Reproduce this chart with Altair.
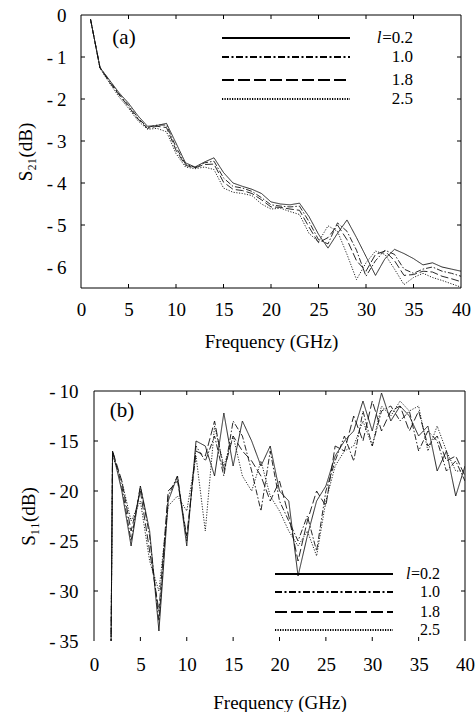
import altair as alt
import pandas as pd

FONT = "Liberation Serif"

SERIES = ["l=0.2", "1.0", "1.8", "2.5"]
DATA_DASHES = [[1, 0], [6, 2, 1.5, 2], [8, 3], [1.2, 1.5]]
LEG_DASHES = [[1, 0], [7, 2.5, 2, 2.5], [12, 4], [1.2, 1.3]]

X_TICKS = [0, 5, 10, 15, 20, 25, 30, 35, 40]
A_Y_TICKS = [0, -1, -2, -3, -4, -5, -6]
B_Y_TICKS = [-10, -15, -20, -25, -30, -35]

# ---- panel (a): S21 ----
FREQ_A = list(range(1, 41))
A_L02 = [-0.10, -1.25, -1.55, -1.85, -2.10, -2.40, -2.65, -2.63, -2.58, -3.05,
         -3.52, -3.62, -3.50, -3.40, -3.75, -4.00, -4.08, -4.15, -4.25, -4.45,
         -4.50, -4.52, -4.48, -4.80, -5.22, -5.55, -5.20, -4.88, -5.30, -5.75,
         -6.20, -5.80, -5.58, -5.68, -5.80, -5.95, -5.90, -6.00, -6.05, -6.10]
A_L10 = [-0.10, -1.25, -1.57, -1.88, -2.15, -2.45, -2.68, -2.62, -2.62, -3.15,
         -3.55, -3.63, -3.52, -3.48, -3.88, -4.08, -4.12, -4.20, -4.35, -4.52,
         -4.55, -4.57, -4.55, -4.92, -5.35, -5.45, -4.95, -5.15, -5.60, -6.22,
         -5.85, -5.60, -5.70, -6.05, -6.15, -6.05, -6.00, -6.10, -6.15, -6.22]
A_L18 = [-0.10, -1.26, -1.60, -1.90, -2.18, -2.48, -2.70, -2.65, -2.68, -3.22,
         -3.58, -3.64, -3.56, -3.55, -3.98, -4.15, -4.18, -4.25, -4.40, -4.57,
         -4.58, -4.62, -4.65, -5.05, -5.42, -5.30, -5.00, -5.35, -5.85, -6.10,
         -5.70, -5.62, -5.85, -6.20, -6.18, -6.10, -6.12, -6.22, -6.28, -6.35]
A_L25 = [-0.10, -1.27, -1.62, -1.95, -2.22, -2.52, -2.72, -2.70, -2.78, -3.30,
         -3.62, -3.66, -3.62, -3.68, -4.12, -4.22, -4.25, -4.30, -4.50, -4.62,
         -4.60, -4.68, -4.75, -5.20, -5.40, -5.02, -5.15, -5.70, -6.30, -5.90,
         -5.62, -5.70, -6.05, -6.42, -6.25, -6.15, -6.25, -6.32, -6.40, -6.48]

# ---- panel (b): S11 ----
FREQ_B = [1.8] + list(range(2, 41))
B_L02 = [-40, -16.0, -20.0, -25.5, -19.5, -24.0, -34.0, -21.0, -18.5, -25.5,
         -15.0, -15.5, -18.5, -12.2, -17.5, -13.0, -15.0, -17.5, -15.5, -20.0,
         -21.0, -28.5, -24.5, -21.0, -19.5, -16.5, -15.0, -14.0, -11.0, -14.0,
         -10.2, -13.0, -11.5, -12.5, -14.5, -13.5, -18.0, -16.0, -20.5, -17.5]
B_L10 = [-40, -16.0, -19.5, -25.0, -19.5, -24.5, -33.0, -20.5, -18.5, -25.0,
         -15.5, -17.0, -14.5, -18.5, -13.0, -14.5, -18.0, -22.0, -16.0, -21.0,
         -23.0, -25.0, -22.5, -26.0, -20.0, -17.0, -14.5, -17.0, -12.0, -15.5,
         -12.0, -11.5, -13.0, -12.0, -16.0, -14.0, -15.0, -18.0, -17.0, -19.0]
B_L18 = [-40, -16.0, -19.0, -24.0, -20.0, -26.0, -32.0, -20.0, -19.0, -24.5,
         -16.0, -16.5, -13.0, -18.0, -14.5, -16.0, -17.0, -18.5, -21.0, -19.0,
         -22.5, -27.0, -23.0, -20.0, -21.5, -15.5, -16.0, -12.5, -15.0, -11.0,
         -14.0, -12.0, -11.5, -14.0, -12.0, -15.5, -14.5, -17.0, -16.5, -18.5]
B_L25 = [-40, -16.5, -19.0, -23.0, -21.0, -27.0, -30.0, -21.5, -20.5, -22.0,
         -16.5, -24.0, -13.5, -17.5, -14.5, -18.5, -20.0, -17.0, -20.5, -22.0,
         -24.0, -25.5, -24.0, -26.5, -21.0, -17.5, -16.0, -15.5, -13.0, -15.5,
         -11.5, -12.5, -11.0, -12.0, -11.5, -16.0, -13.5, -16.0, -18.0, -18.0]


def long_df(freq, cols):
    rows = []
    for name, vals in zip(SERIES, cols):
        for f, v in zip(freq, vals):
            rows.append({"freq": f, "value": v, "series": name})
    return pd.DataFrame(rows)


ONE = pd.DataFrame({"k": [0]})


def y_label_expr():
    return "datum.value == 0 ? '0' : '-\u2009' + abs(datum.value)"


def panel(df, OX, W, H, ydomain, yticks, x_lab_pad, x_title_pad, y_lab_pad, y_title_pad,
          tag, tag_xy, leg_x0, leg_x1, leg_rows, leg_right, leg_fs, bottom_frame, ytitle):
    xscale = alt.Scale(domain=[0, 40], nice=False, zero=False, range=[OX, OX + W])
    yscale = alt.Scale(domain=ydomain, nice=False, zero=False)
    x_axis = alt.Axis(values=X_TICKS, format="d", title="Frequency (GHz)",
                      labelPadding=x_lab_pad, titlePadding=x_title_pad, labelFlush=False,
                      titleX=OX + W / 2)
    y_axis = alt.Axis(values=yticks, labelExpr=y_label_expr(), title=ytitle,
                      labelPadding=y_lab_pad, titlePadding=y_title_pad)

    lines = alt.Chart(df).mark_line(clip=True, strokeWidth=0.9, color="#111").encode(
        x=alt.X("freq:Q", scale=xscale, axis=x_axis),
        y=alt.Y("value:Q", scale=yscale, axis=y_axis),
        strokeDash=alt.StrokeDash("series:N", scale=alt.Scale(domain=SERIES, range=DATA_DASHES),
                                  legend=None),
    )

    xt = pd.DataFrame({"freq": X_TICKS[1:-1]})
    yt = pd.DataFrame({"value": yticks[1:-1]})
    tick_col = "black"
    L, R = OX, OX + W
    layers = [lines]
    layers.append(alt.Chart(xt).mark_rule(color=tick_col).encode(
        x=alt.X("freq:Q", scale=xscale, axis=x_axis), y=alt.value(H), y2=alt.value(H - 4)))
    layers.append(alt.Chart(xt).mark_rule(color=tick_col).encode(
        x=alt.X("freq:Q", scale=xscale, axis=x_axis), y=alt.value(0), y2=alt.value(4)))
    layers.append(alt.Chart(yt).mark_rule(color=tick_col).encode(
        y=alt.Y("value:Q", scale=yscale, axis=y_axis), x=alt.value(L), x2=alt.value(L + 4)))
    layers.append(alt.Chart(yt).mark_rule(color=tick_col).encode(
        y=alt.Y("value:Q", scale=yscale, axis=y_axis), x=alt.value(R), x2=alt.value(R - 4)))

    # frame
    layers.append(alt.Chart(ONE).mark_rule(color="black").encode(
        x=alt.value(L), y=alt.value(0), y2=alt.value(H)))
    layers.append(alt.Chart(ONE).mark_rule(color="black").encode(
        x=alt.value(R), y=alt.value(0), y2=alt.value(H)))
    layers.append(alt.Chart(ONE).mark_rule(color="black").encode(
        y=alt.value(0), x=alt.value(L), x2=alt.value(R)))
    if bottom_frame:
        layers.append(alt.Chart(ONE).mark_rule(color="black").encode(
            y=alt.value(H), x=alt.value(L), x2=alt.value(R)))

    # panel tag
    layers.append(alt.Chart(ONE).mark_text(font=FONT, fontSize=21, align="center",
                                           baseline="middle", color="black").encode(
        x=alt.value(L + tag_xy[0]), y=alt.value(tag_xy[1]), text=alt.value(tag)))

    # legend
    for i, (name, dash, yy) in enumerate(zip(SERIES, LEG_DASHES, leg_rows)):
        layers.append(alt.Chart(ONE).mark_rule(strokeDash=dash, strokeWidth=1.8, color="black").encode(
            x=alt.value(L + leg_x0), x2=alt.value(L + leg_x1), y=alt.value(yy)))
        if i == 0:
            sym, rest = name.split("=")
            rest = "=" + rest
            layers.append(alt.Chart(ONE).mark_text(font=FONT, fontSize=leg_fs, align="right",
                                                   baseline="middle", color="black").encode(
                x=alt.value(L + leg_right), y=alt.value(yy), text=alt.value(rest)))
            layers.append(alt.Chart(ONE).mark_text(font=FONT, fontSize=leg_fs, fontStyle="italic",
                                                   align="right", baseline="middle", color="black").encode(
                x=alt.value(L + leg_right - leg_fs * 1.85), y=alt.value(yy), text=alt.value(sym)))
        else:
            layers.append(alt.Chart(ONE).mark_text(font=FONT, fontSize=leg_fs, align="right",
                                                   baseline="middle", color="black").encode(
                x=alt.value(L + leg_right), y=alt.value(yy), text=alt.value(name)))

    return alt.layer(*layers).properties(width=OX + W, height=H)


dfA = long_df(FREQ_A, [A_L02, A_L10, A_L18, A_L25])
dfB = long_df(FREQ_B, [B_L02, B_L10, B_L18, B_L25])

pa = panel(dfA, 0, 380, 273, [-6.5, 0], A_Y_TICKS, 12, 13, 15, 11,
           "(a)", (43, 23), 141, 269, [23, 42, 65, 84], 332, 17, True, "S\u2082\u2081(dB)")
pb = panel(dfB, 13, 371, 250, [-35, -10], B_Y_TICKS, 14, 19, 3, 10,
           "(b)", (28, 20), 181, 299, [183, 201, 221, 239], 346, 16, False, "S\u2081\u2081(dB)")

chart = alt.vconcat(pa, pb, spacing=31).properties(
    padding={"left": 16, "top": 6, "right": 0, "bottom": 0},
    background="white",
).configure_view(stroke=None).configure_axis(
    labelFont=FONT, titleFont=FONT, labelFontSize=19, titleFontSize=19,
    titleFontWeight="normal", labelColor="black", titleColor="black",
    domain=False, ticks=False, grid=False
)

chart.save("out.html", embed_options={"renderer": "svg", "actions": False})
